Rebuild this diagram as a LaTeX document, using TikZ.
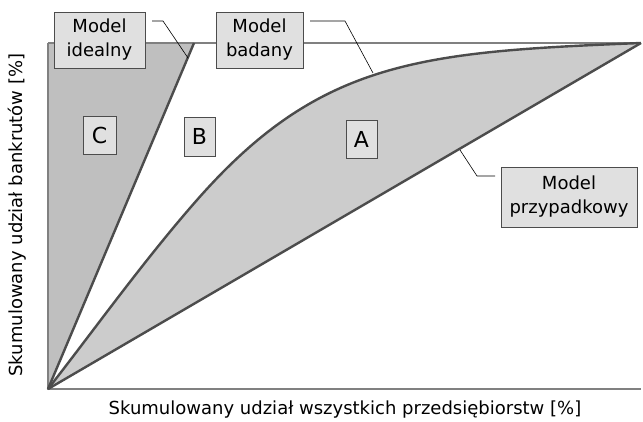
\documentclass[tikz,border=0pt]{standalone}
\usepackage{fontspec}
\setmainfont{DejaVu Sans}
\begin{document}
\begin{tikzpicture}[x=1pt,y=-1pt,
  font=\fontsize{18}{24}\selectfont,
  curveline/.style={draw=black!70, line width=2.4pt, line join=round},
  axisline/.style={draw=black!50, line width=1.3pt},
  leader/.style={draw=black, line width=0.6pt},
  tag/.style={draw=black!70, fill=black!12, line width=0.8pt, inner sep=0pt, align=center},
  labelbox/.style={tag, font=\fontsize{18}{24}\selectfont},
  letterbox/.style={tag, font=\fontsize{22}{24}\selectfont}]
\useasboundingbox (0,0) rectangle (643,422);
% corner points of the chart
\coordinate (O) at (48,389);
\coordinate (TL) at (48,43);
\coordinate (TR) at (641,43);
\coordinate (BR) at (641,389);
\coordinate (I) at (194,43);
\coordinate (K) at (197,200);
\def\studiedcurve{(O) .. controls (94.8,329) and (144.2,260) .. (K) .. controls (320,60) and (421,51.8) .. (TR)}
% shaded regions
\fill[black!25] (O) -- (TL) -- (I) -- cycle;
\fill[black!20] \studiedcurve -- cycle;
% frame
\draw[axisline] (TL) -- (TR);
\draw[axisline] (TL) -- (O) -- (BR);
% model curves
\draw[curveline] (O) -- (I);
\draw[curveline] (O) -- (TR);
\draw[curveline] \studiedcurve;
% labels
\node[labelbox, minimum width=91pt, minimum height=56pt] (ideal) at (99.5,40) {Model\\idealny};
\node[labelbox, minimum width=87pt, minimum height=56pt] (badany) at (259.5,40) {Model\\badany};
\node[labelbox, minimum width=136pt, minimum height=60pt] (losowy) at (569,197) {Model\\przypadkowy};
\node[letterbox, minimum width=33pt, minimum height=38pt] (C) at (99.5,135) {C};
\node[letterbox, minimum width=31pt, minimum height=39pt] (B) at (199.5,136.5) {B};
\node[letterbox, minimum width=31pt, minimum height=38pt] (A) at (361.5,139) {A};
% leader lines
\coordinate (l1) at (152,21);
\coordinate (l2) at (163,21);
\coordinate (l3) at (188,58);
\draw[leader] (l1) -- (l2) -- (l3);
\coordinate (m1) at (310,21);
\coordinate (m2) at (345,21);
\coordinate (m3) at (373,73);
\draw[leader] (m1) -- (m2) -- (m3);
\coordinate (p1) at (495,176);
\coordinate (p2) at (477,176);
\coordinate (p3) at (460,150);
\draw[leader] (p1) -- (p2) -- (p3);
% axis titles
\node (xlab) at (345,410) {Skumulowany udział wszystkich przedsiębiorstw [\%]};
\node[rotate=90] (ylab) at (17,215) {Skumulowany udział bankrutów [\%]};
\end{tikzpicture}
\end{document}
